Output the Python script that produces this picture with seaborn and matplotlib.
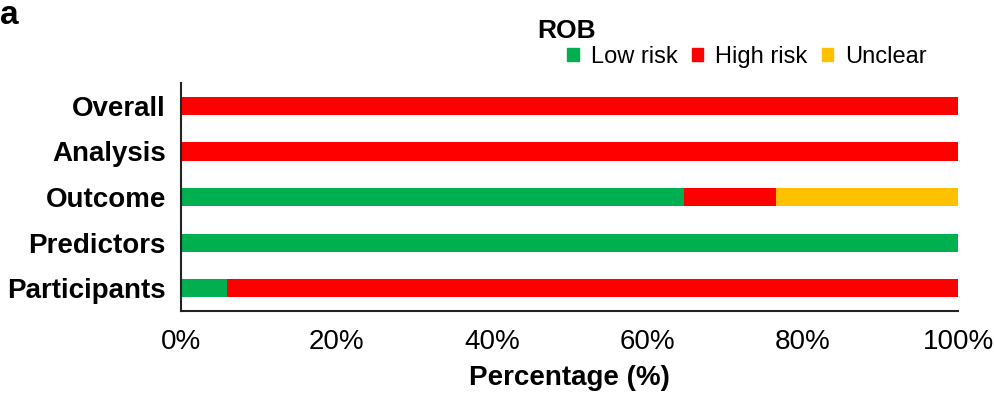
import pandas as pd
import seaborn as sns
import matplotlib.pyplot as plt
from matplotlib.patches import Patch

# dominios do ROB (de cima para baixo)
domains = ["Overall", "Analysis", "Outcome", "Predictors", "Participants"]
low_risk = [0.0, 0.0, 64.7, 100.0, 5.9]
high_risk = [100.0, 100.0, 11.8, 0.0, 94.1]
unclear = [0.0, 0.0, 23.5, 0.0, 0.0]
tick_labels = ["0%", "20%", "40%", "60%", "80%", "100%"]

green = "#00B050"
red = "#FF0000"
yellow = "#FFC000"

dataset = pd.DataFrame({"domain": domains, "low": low_risk,
                        "high": high_risk, "unclear": unclear})
dataset["low_high"] = dataset["low"] + dataset["high"]
dataset["total"] = dataset["low_high"] + dataset["unclear"]

sns.set_style("white")
plt.rcParams["font.family"] = ["Liberation Sans", "DejaVu Sans"]
plt.rcParams["text.color"] = "black"
plt.rcParams["axes.labelcolor"] = "black"
plt.rcParams["xtick.color"] = "black"
plt.rcParams["ytick.color"] = "black"

fig = plt.figure(figsize=(9.95, 4.03), dpi=100)
ax = fig.add_axes([0.182, 0.228, 0.781, 0.566])

# barras empilhadas: desenha o acumulado de tras para frente
sns.barplot(data=dataset, x="total", y="domain", orient="h", color=yellow,
            width=0.4, saturation=1, ax=ax, linewidth=0)
sns.barplot(data=dataset, x="low_high", y="domain", orient="h", color=red,
            width=0.4, saturation=1, ax=ax, linewidth=0)
sns.barplot(data=dataset, x="low", y="domain", orient="h", color=green,
            width=0.4, saturation=1, ax=ax, linewidth=0)

ax.set_xlim(0, 100)
ax.set_ylim(4.5, -0.5)
ax.set_xticks([0, 20, 40, 60, 80, 100])
ax.set_xticklabels(tick_labels, fontsize=20)
ax.set_yticks(range(len(domains)))
ax.set_yticklabels(domains, fontsize=20, fontweight="bold")
ax.set_ylabel("")
ax.set_xlabel("Percentage (%)", fontsize=20, fontweight="bold", labelpad=7)
ax.tick_params(axis="x", length=5, width=1.5, color="#222222", pad=8)
ax.tick_params(axis="y", length=0, pad=11)

for side in ["top", "right"]:
    ax.spines[side].set_visible(False)
for side in ["left", "bottom"]:
    ax.spines[side].set_color("#222222")
    ax.spines[side].set_linewidth(1.5)

handles = [Patch(color=green, label="Low risk"),
           Patch(color=red, label="High risk"),
           Patch(color=yellow, label="Unclear")]
fig.legend(handles=handles, loc="center", bbox_to_anchor=(747 / 995, 1 - 57 / 403),
           ncol=3, frameon=False, fontsize=17, handlelength=0.5, handleheight=0.5,
           handletextpad=0.5, columnspacing=0.6, borderpad=0)
fig.text(537 / 995, 1 - 31 / 403, "ROB", fontsize=19, fontweight="bold",
         ha="left", va="center")
fig.text(0.0, 1 - 24 / 403, "a", fontsize=24, fontweight="bold",
         ha="left", va="baseline")

fig.savefig("out.png", dpi=100)
